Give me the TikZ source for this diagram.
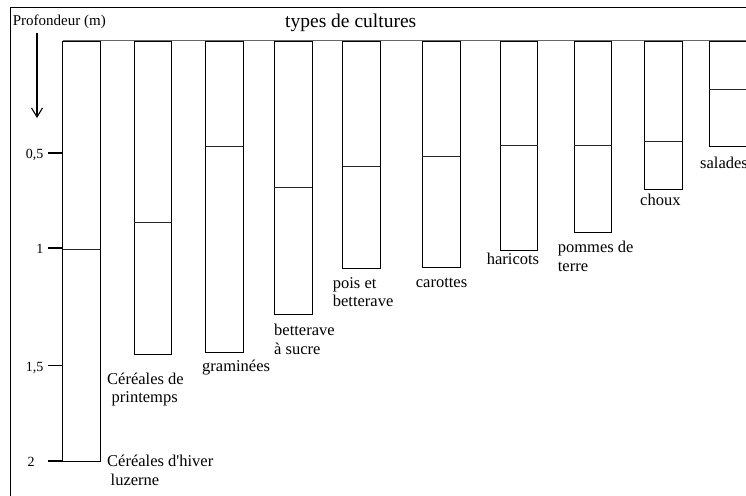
\documentclass[tikz,border=0pt]{standalone}
\usepackage{fontspec}
\setmainfont{Liberation Serif}
\usetikzlibrary{arrows.meta}
\begin{document}
\begin{tikzpicture}[x=1pt,y=-1pt,
  bar/.style={draw=black,line width=0.9pt,fill=white},
  midline/.style={draw=black!85,line width=0.9pt},
  lab/.style={anchor=base west,inner sep=0pt,font=\fontsize{16.5}{18.5}\selectfont,align=left},
  ticklab/.style={anchor=base east,inner sep=0pt,font=\fontsize{14}{16}\selectfont},
  tick/.style={draw=black,line width=1.2pt}]
\useasboundingbox (0,0) rectangle (746,495);
% frame
\draw[line width=1.3pt] (10.5,500) -- (10.5,7.5) -- (750,7.5);
% top reference line
\draw[black!60,line width=1pt] (62.5,41) -- (750,41);
% bars: left, right, mid, bottom
\foreach \l/\r/\m/\b in {62.5/100/249/461, 134/171.7/222/354, 205.7/243.3/146.5/352.5, 274.3/312.3/187.5/314, 342.7/380.3/166/268, 422.3/460.3/156.5/267.5, 500.3/537.7/145.5/250, 574/611.7/145.5/232, 644.3/682/141.5/189, 709.3/747/89.7/146.5}{
  \draw[bar] (\l,41) rectangle (\r,\b);
  \draw[midline] (\l,\m) -- (\r,\m);
}
% title and axis
\node[anchor=base west,inner sep=0pt,font=\fontsize{19.5}{22}\selectfont] (title) at (285,27.3) {types de cultures};
\node[anchor=base west,inner sep=0pt,font=\fontsize{15}{17}\selectfont] (prof) at (12.7,25.5) {Profondeur (m)};
\coordinate (arrs) at (37,33);
\coordinate (arre) at (37,118);
\draw[line width=1.2pt,-{Straight Barb[length=9pt,width=11pt,line width=1.1pt]}] (arrs) -- (arre);
% ticks
\foreach \y/\t/\n in {153/{0,5}/ta, 248/{1}/tb, 365.7/{1,5}/tc}{
  \draw[tick] (48.3,\y) -- (62,\y);
  \node[ticklab] (\n) at (43.5,\y+5.5) {\t};
}
\draw[tick] (48.3,461) -- (62,461);
\node[anchor=base west,inner sep=0pt,font=\fontsize{14}{16}\selectfont] (td) at (27.5,466) {2};
% labels (base = baseline of last line)
\node[lab] (l1) at (107,485) {Céréales d\textquotesingle hiver\\\hspace{3.5pt}luzerne};
\node[lab] (l2) at (107,402.7) {Céréales de\\\hspace{4.5pt}printemps};
\node[lab] (l3) at (202,371) {graminées};
\node[lab] (l4) at (274,354) {betterave\\à sucre};
\node[lab] (l5) at (332.7,306.7) {pois et\\betterave};
\node[lab] (l6) at (415.7,287.7) {carottes};
\node[lab] (l7) at (486.7,264) {haricots};
\node[lab] (l8) at (557.7,271) {pommes de\\terre};
\node[lab] (l9) at (640,205) {choux};
\node[lab] (l10) at (700,168.3) {salades};
\end{tikzpicture}
\end{document}
